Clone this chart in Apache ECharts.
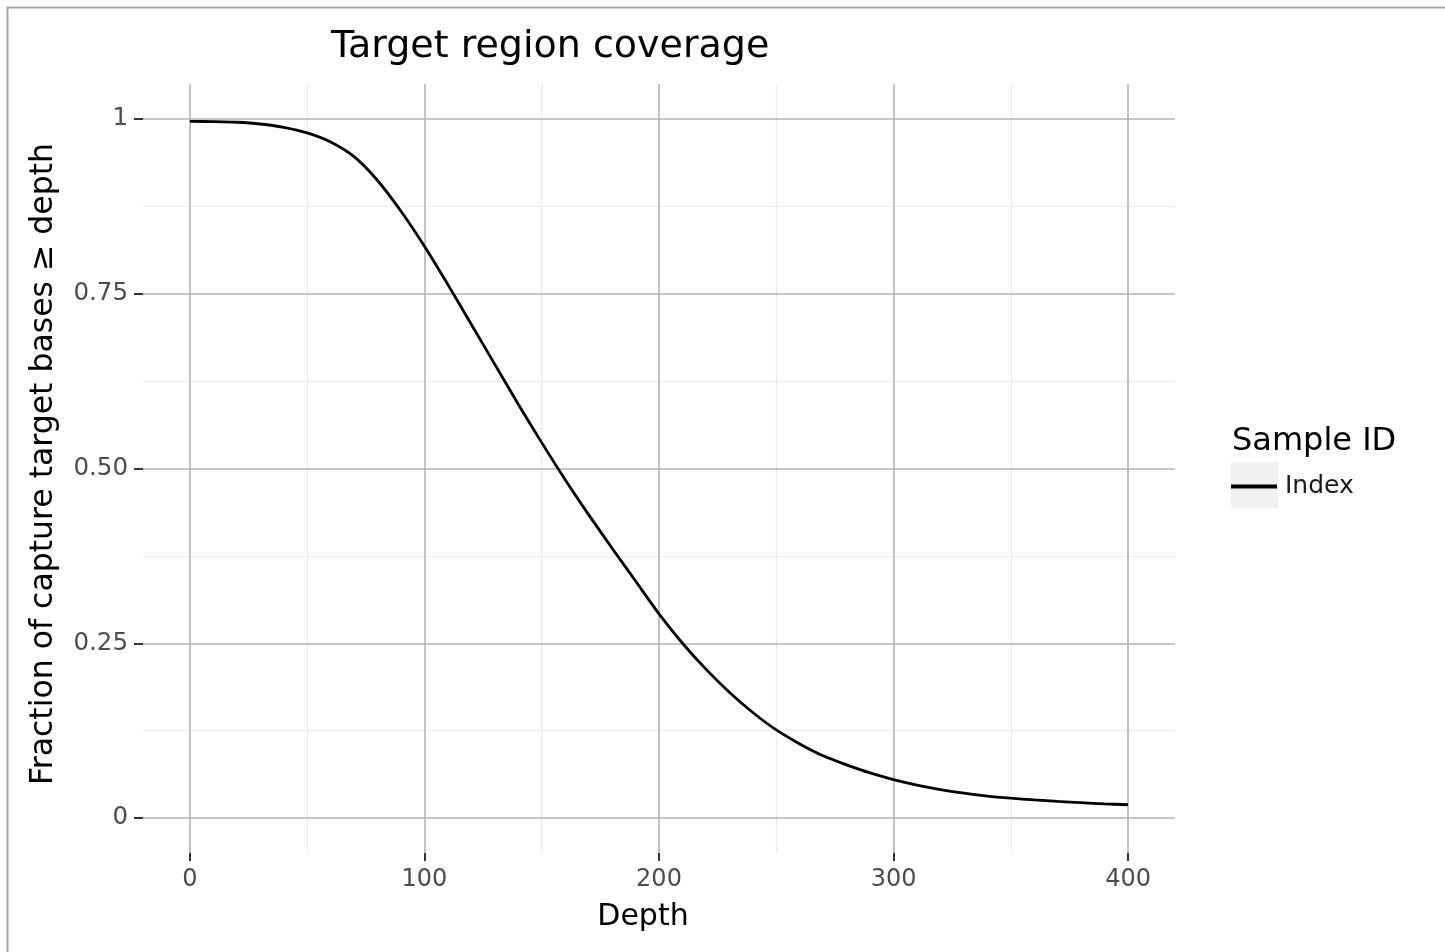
<!DOCTYPE html>
<html>
<head>
<meta charset="utf-8">
<script src="https://cdn.jsdelivr.net/npm/echarts@6/dist/echarts.min.js"></script>
<style>
html,body{margin:0;padding:0;background:#fff;}
#chart{width:1445px;height:952px;}
</style>
</head>
<body>
<div id="chart"></div>
<script>
// ---- data ----
var depth    = [0, 10, 20, 30, 40, 50, 60, 70, 80, 90, 100, 110, 120, 130, 140, 150, 160, 170, 180, 190, 200, 210, 220, 230, 240, 250, 260, 270, 280, 290, 300, 310, 320, 330, 340, 350, 360, 370, 380, 390, 400];
var coverage = [0.9965, 0.9962, 0.9953, 0.9928, 0.988, 0.980, 0.967, 0.946, 0.912, 0.868, 0.818, 0.763, 0.706, 0.649, 0.592, 0.537, 0.484, 0.434, 0.386, 0.339, 0.292, 0.250, 0.213, 0.180, 0.151, 0.126, 0.106, 0.089, 0.076, 0.0645, 0.055, 0.0472, 0.0408, 0.0355, 0.0315, 0.0285, 0.026, 0.0238, 0.022, 0.0203, 0.019];
var seriesName = 'Index';
var xTicks = [0, 100, 200, 300, 400];
var xMinorTicks = [50, 150, 250, 350];
var yTicks = [0, 0.25, 0.5, 0.75, 1];
var yTickLabels = ['0', '0.25', '0.50', '0.75', '1'];
var yMinorTicks = [0.125, 0.375, 0.625, 0.875];
var chartTitle = 'Target region coverage';
var xTitle = 'Depth';
var yTitle = 'Fraction of capture target bases \u2265 depth';
var legendTitle = 'Sample ID';

var FONT = 'DejaVu Sans';
var pts = depth.map(function (d, i) { return [d, coverage[i]]; });

var chart = echarts.init(document.getElementById('chart'), null, {renderer: 'canvas'});
var majorColor = '#b3b3b3';
var minorColor = '#ebebeb';

function majorX() {
  return {
    type: 'value', min: -20, max: 420, position: 'bottom', z: 2,
    axisLine: {show: false, onZero: false},
    axisTick: {show: true, inside: false, length: 8, customValues: xTicks, lineStyle: {color: '#333333', width: 2}},
    axisLabel: {show: true, customValues: xTicks, margin: 15, color: '#4d4d4d', fontSize: 24, fontFamily: FONT},
    splitLine: {show: true, lineStyle: {color: majorColor, width: 1.6}}
  };
}
function minorX() {
  return {
    type: 'value', min: -20, max: 420, position: 'bottom', z: 0,
    axisLine: {show: false, onZero: false},
    axisTick: {show: false, customValues: xMinorTicks},
    axisLabel: {show: false, customValues: xMinorTicks},
    splitLine: {show: true, lineStyle: {color: minorColor, width: 1.2}}
  };
}
function majorY() {
  return {
    type: 'value', min: -0.05, max: 1.05, position: 'left', z: 2,
    axisLine: {show: false, onZero: false},
    axisTick: {show: true, inside: false, length: 9, customValues: yTicks, lineStyle: {color: '#333333', width: 2}},
    axisLabel: {show: true, customValues: yTicks, margin: 15, color: '#4d4d4d', fontSize: 24.5, fontFamily: FONT,
      formatter: function (v) {
        for (var i = 0; i < yTicks.length; i++) { if (Math.abs(yTicks[i] - v) < 1e-9) return yTickLabels[i]; }
        return '';
      }},
    splitLine: {show: true, lineStyle: {color: majorColor, width: 1.6}}
  };
}
function minorY() {
  return {
    type: 'value', min: -0.05, max: 1.05, position: 'left', z: 0,
    axisLine: {show: false, onZero: false},
    axisTick: {show: false, customValues: yMinorTicks},
    axisLabel: {show: false, customValues: yMinorTicks},
    splitLine: {show: true, lineStyle: {color: minorColor, width: 1.2}}
  };
}

var option = {
  backgroundColor: '#ffffff',
  animation: false,
  textStyle: {fontFamily: FONT},
  grid: {left: 143, right: 270, top: 84, bottom: 99, containLabel: false, outerBoundsMode: 'none'},
  xAxis: [majorX(), minorX()],
  yAxis: [majorY(), minorY()],
  legend: {
    show: true,
    left: 1231, top: 474,
    orient: 'vertical',
    padding: 0,
    icon: 'rect',
    itemWidth: 46, itemHeight: 4,
    textStyle: {fontFamily: FONT, fontSize: 25, color: '#1a1a1a', padding: [0, 0, 0, 3]},
    data: [{name: seriesName, itemStyle: {color: '#000000'}}]
  },
  graphic: [
    {type: 'rect', z: -10, silent: true, shape: {x: 7.5, y: 7.5, width: 1500, height: 1000},
      style: {fill: 'none', stroke: '#a6a6a6', lineWidth: 2}},
    {type: 'rect', z: -5, silent: true, shape: {x: 1231, y: 462, width: 47, height: 46},
      style: {fill: '#f0f0f0'}},
    {type: 'text', silent: true, x: 331, y: 47,
      style: {text: chartTitle, font: '38px "DejaVu Sans"', fill: '#000000', textAlign: 'left', textVerticalAlign: 'middle'}},
    {type: 'text', silent: true, x: 643, y: 917,
      style: {text: xTitle, font: '30px "DejaVu Sans"', fill: '#000000', textAlign: 'center', textVerticalAlign: 'middle'}},
    {type: 'text', silent: true, x: 44, y: 464, rotation: Math.PI / 2,
      style: {text: yTitle, font: '31.5px "DejaVu Sans"', fill: '#000000', textAlign: 'center', textVerticalAlign: 'middle'}},
    {type: 'text', silent: true, x: 1232, y: 442,
      style: {text: legendTitle, font: '32px "DejaVu Sans"', fill: '#000000', textAlign: 'left', textVerticalAlign: 'middle'}}
  ],
  series: [{
    name: seriesName,
    type: 'line',
    xAxisIndex: 0, yAxisIndex: 0,
    data: pts,
    smooth: 0.3,
    showSymbol: false,
    symbol: 'none',
    z: 5,
    lineStyle: {color: '#000000', width: 2.8},
    itemStyle: {color: '#000000'}
  }]
};
chart.setOption(option);
</script>
</body>
</html>
